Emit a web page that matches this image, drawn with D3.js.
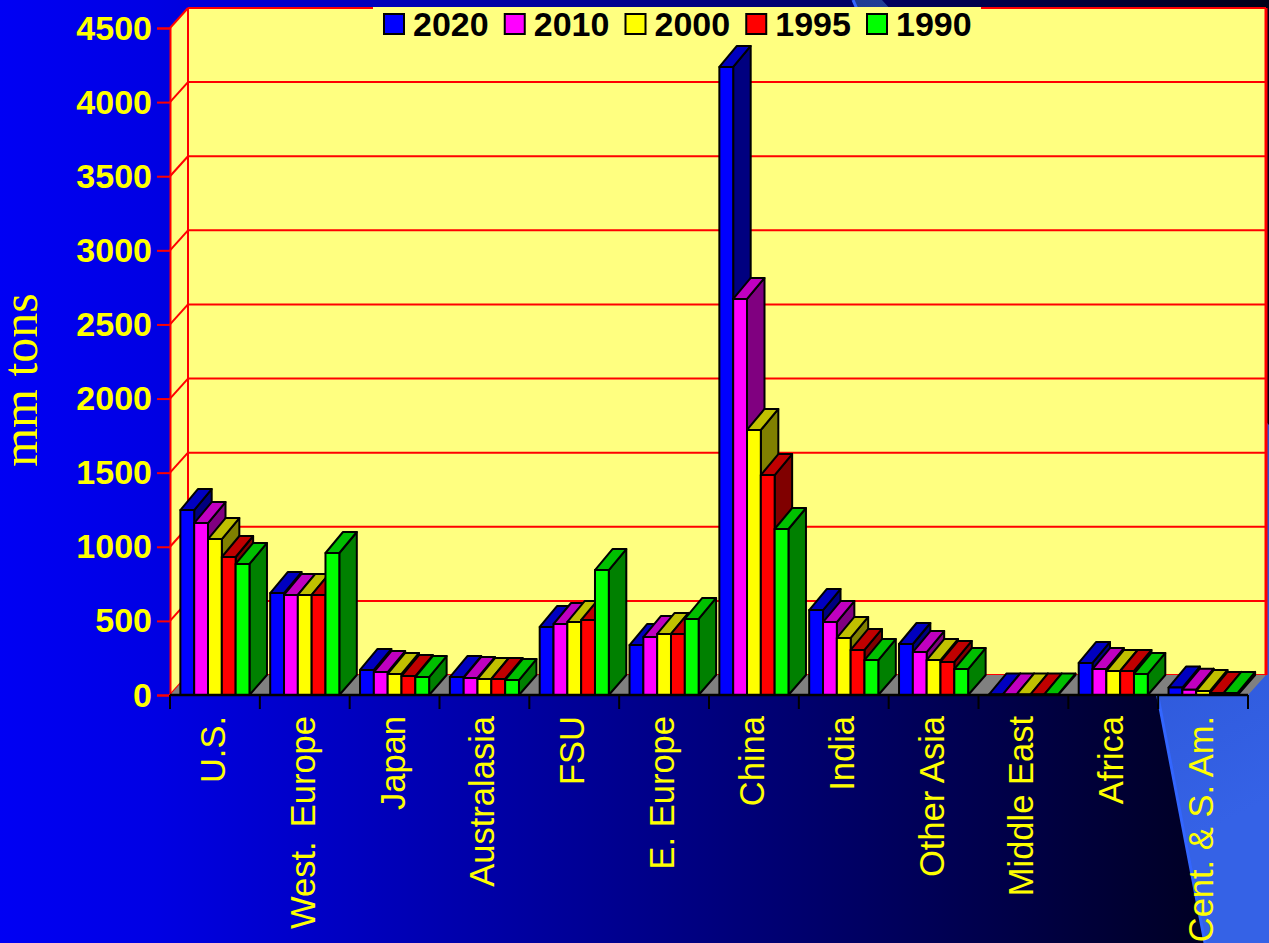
<!DOCTYPE html>
<html>
<head>
<meta charset="utf-8">
<script src="https://cdn.jsdelivr.net/npm/d3@7"></script>
<style>
  html, body { margin: 0; padding: 0; background: #000; overflow: hidden; }
  svg { display: block; }
</style>
</head>
<body>
<svg id="chart" width="1269" height="943"></svg>
<script>
// Coal consumption by region, million tons
const regions = ["U.S.", "West.  Europe", "Japan", "Australasia", "FSU", "E. Europe", "China", "India", "Other Asia", "Middle East", "Africa", "Cent. & S. Am."];
const years = ["2020", "2010", "2000", "1995", "1990"];
const values2020 = [1248, 688, 169, 121, 459, 337, 4237, 573, 344, 3, 216, 50];
const values2010 = [1160, 675, 155, 115, 479, 391, 2672, 492, 290, 3, 175, 36];
const values2000 = [1052, 675, 142, 108, 493, 412, 1788, 385, 236, 3, 162, 27];
const values1995 = [931, 675, 128, 108, 506, 412, 1484, 304, 223, 3, 162, 14];
const values1990 = [884, 958, 121, 101, 843, 513, 1120, 236, 175, 3, 142, 14];
const seriesValues = [values2020, values2010, values2000, values1995, values1990];
const faceColors = ["#0000ff", "#ff00ff", "#ffff00", "#ff0000", "#00ff00"];
const topColors = ["#0000c0", "#c000c0", "#c0c000", "#c00000", "#00c000"];
const sideColors = ["#000080", "#800080", "#808000", "#800000", "#008000"];
const yTicks = [0, 500, 1000, 1500, 2000, 2500, 3000, 3500, 4000, 4500];

const svg = d3.select("#chart");
const sans = "'Liberation Sans', Arial, sans-serif";
const serif = "'Liberation Serif', 'Times New Roman', serif";
const WALL = "#ffff80", RED = "#ff0000";
const wallDx = 18, wallDy = 20, barDx = 17.5, barDy = 21;

const x = d3.scaleBand().domain(regions).range([170, 1248]);
const inner = d3.scaleBand().domain(years).range([0, x.bandwidth()]).paddingOuter(0.75).paddingInner(0);
const y = d3.scaleLinear().domain([0, 4500]).range([695, 28]);

// Slide backdrop
const defs = svg.append("defs");
const bg = defs.append("linearGradient").attr("id", "bg");
bg.append("stop").attr("offset", "0").attr("stop-color", "#0000f4");
bg.append("stop").attr("offset", "0.12").attr("stop-color", "#0000e4");
bg.append("stop").attr("offset", "1").attr("stop-color", "#000018");
svg.append("rect").attr("width", 1269).attr("height", 943).attr("fill", "url(#bg)");

const wedge = defs.append("linearGradient").attr("id", "wedge")
  .attr("gradientUnits", "userSpaceOnUse")
  .attr("x1", 860).attr("y1", 0).attr("x2", 1269).attr("y2", 800);
wedge.append("stop").attr("offset", "0").attr("stop-color", "#1f3d94");
wedge.append("stop").attr("offset", "0.75").attr("stop-color", "#2d57d8");
wedge.append("stop").attr("offset", "1").attr("stop-color", "#3562e6");
svg.append("path").attr("d", "M853,0 L882,0 L1269,425 L1269,943 L1205,943 L1158,697 Z").attr("fill", "url(#wedge)");
svg.append("path").attr("d", "M853,0 L1158,697 L1205,943").attr("fill", "none").attr("stroke", "#3366ff").attr("stroke-width", 3);

// Back wall, side wall and floor
const plot = svg.append("g");
const [left, right] = x.range();
const base = y(0);
plot.append("polygon").attr("fill", WALL)
  .attr("points", [[left + wallDx, y(4500) - wallDy], [right + wallDx, y(4500) - wallDy], [right + wallDx, base - wallDy], [left + wallDx, base - wallDy]].join(" "));
plot.append("polygon").attr("fill", WALL)
  .attr("points", [[left, y(4500)], [left + wallDx, y(4500) - wallDy], [left + wallDx, base - wallDy], [left, base]].join(" "));

// Gridlines wrap from the back wall onto the side wall
plot.selectAll("line.grid").data(yTicks).join("line").attr("class", "grid")
  .attr("x1", left + wallDx).attr("x2", right + wallDx)
  .attr("y1", d => y(d) - wallDy).attr("y2", d => y(d) - wallDy)
  .attr("stroke", RED).attr("stroke-width", 2);
plot.selectAll("line.wrap").data(yTicks).join("line").attr("class", "wrap")
  .attr("x1", left).attr("x2", left + wallDx)
  .attr("y1", d => y(d)).attr("y2", d => y(d) - wallDy)
  .attr("stroke", RED).attr("stroke-width", 2);
plot.append("line").attr("x1", left + wallDx).attr("x2", left + wallDx)
  .attr("y1", y(4500) - wallDy).attr("y2", base - wallDy).attr("stroke", RED).attr("stroke-width", 2);
plot.append("line").attr("x1", right + wallDx).attr("x2", right + wallDx)
  .attr("y1", y(4500) - wallDy).attr("y2", base - wallDy).attr("stroke", RED).attr("stroke-width", 3);
plot.append("polygon").attr("fill", "#808080")
  .attr("points", [[left, base], [right, base], [right + wallDx, base - wallDy], [left + wallDx, base - wallDy]].join(" "));

// Extruded bars, painted left to right so nearer faces cover the sides
const bars = regions.flatMap((region, r) => years.map((year, s) => ({ region, year, s, value: seriesValues[s][r] })));
const barG = svg.append("g").attr("stroke", "#000").attr("stroke-width", 2).attr("stroke-linejoin", "round");
const group = barG.selectAll("g").data(bars).join("g");
const bx0 = d => x(d.region) + inner(d.year);
const bx1 = d => bx0(d) + inner.bandwidth();
group.append("polygon").attr("fill", d => sideColors[d.s])
  .attr("points", d => [[bx1(d), y(d.value)], [bx1(d) + barDx, y(d.value) - barDy], [bx1(d) + barDx, base - wallDy], [bx1(d), base]].join(" "));
group.append("polygon").attr("fill", d => topColors[d.s])
  .attr("points", d => [[bx0(d), y(d.value)], [bx0(d) + barDx, y(d.value) - barDy], [bx1(d) + barDx, y(d.value) - barDy], [bx1(d), y(d.value)]].join(" "));
group.append("rect").attr("fill", d => faceColors[d.s])
  .attr("x", bx0).attr("width", inner.bandwidth())
  .attr("y", d => y(d.value)).attr("height", d => base - y(d.value));

// Value axis
const yAxis = svg.append("g").attr("transform", `translate(${left},0)`)
  .call(d3.axisLeft(y).tickValues(yTicks).tickFormat(d3.format("d")).tickSize(13).tickPadding(5));
yAxis.select(".domain").attr("stroke", RED).attr("stroke-width", 2);
yAxis.selectAll(".tick line").attr("stroke", RED).attr("stroke-width", 2);
yAxis.selectAll(".tick text").attr("fill", "#ffff00")
  .attr("font-family", sans).attr("font-weight", "bold").attr("font-size", 34).attr("dy", 11);

// Category axis: ticks sit on the band edges
svg.append("line").attr("x1", left).attr("x2", right).attr("y1", base).attr("y2", base)
  .attr("stroke", "#000").attr("stroke-width", 2.5);
const edges = regions.map(r => x(r)).concat(right);
svg.selectAll("line.catTick").data(edges).join("line").attr("class", "catTick")
  .attr("x1", d => d).attr("x2", d => d).attr("y1", base).attr("y2", 709)
  .attr("stroke", "#000").attr("stroke-width", 2);
svg.selectAll("text.cat").data(regions).join("text").attr("class", "cat")
  .attr("transform", d => `translate(${x(d) + x.bandwidth() / 2 + 10},716) rotate(-90)`)
  .attr("text-anchor", "end").style("white-space", "pre")
  .style("word-spacing", d => d.includes("  ") ? "-2.5px" : null)
  .attr("fill", "#ffff00").attr("font-family", sans).attr("font-size", 34.5)
  .text(d => d);

// Axis title
svg.append("text").attr("transform", "translate(37,380) rotate(-90)")
  .attr("text-anchor", "middle").attr("fill", "#ffff00")
  .attr("font-family", serif).attr("font-size", 50).text("mm tons");

// Legend
const legend = svg.append("g");
legend.append("rect").attr("x", 373).attr("y", 7).attr("width", 608).attr("height", 36).attr("fill", WALL);
const legendX = d3.scalePoint().domain(years).range([384, 867]);
const item = legend.selectAll("g").data(years).join("g");
item.append("rect").attr("x", d => legendX(d)).attr("y", 14).attr("width", 20).attr("height", 20)
  .attr("fill", (d, i) => faceColors[i]).attr("stroke", "#000").attr("stroke-width", 2);
item.append("text").attr("x", d => legendX(d) + 29).attr("y", 36)
  .attr("font-family", sans).attr("font-weight", "bold").attr("font-size", 34).attr("fill", "#000")
  .text(d => d);
</script>
</body>
</html>
